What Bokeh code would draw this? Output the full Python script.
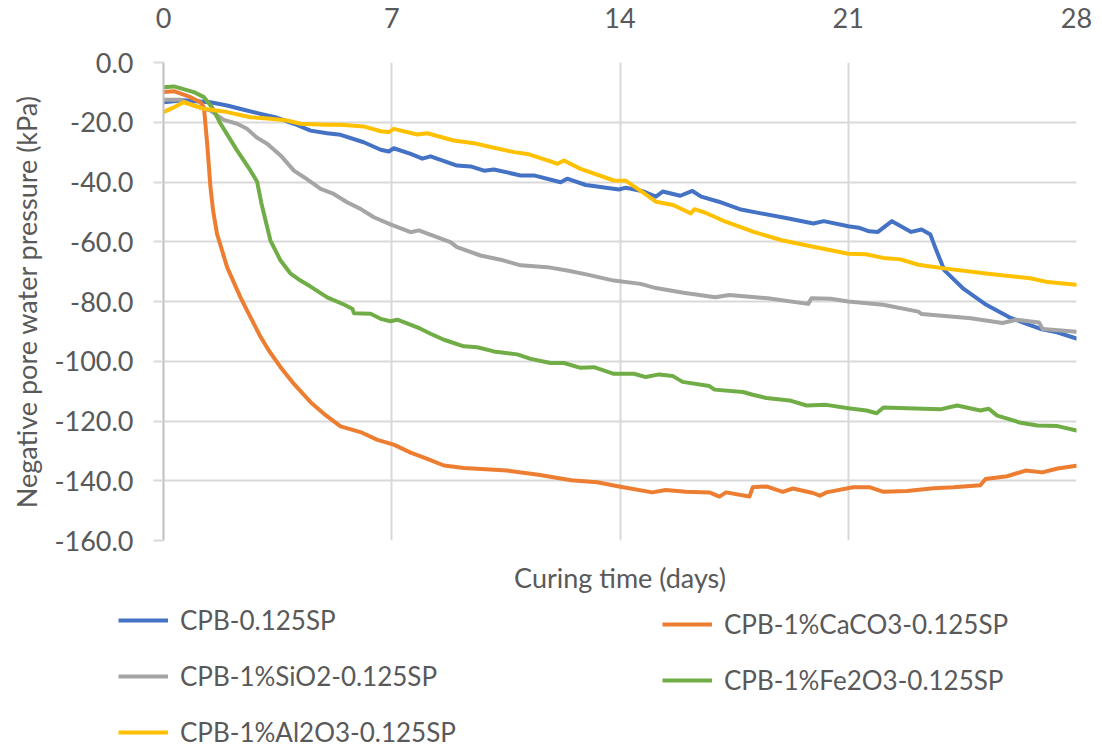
from bokeh.plotting import figure
from bokeh.layouts import column
from bokeh.models import (LinearAxis, Range1d, FixedTicker, Legend, LegendItem,
                          NumeralTickFormatter)
from bokeh.embed import file_html
from bokeh.resources import INLINE

# ---- data: negative pore water pressure (kPa) vs curing time (days) ----
day_ticks = [0, 7, 14, 21, 28]
kpa_ticks = [-160, -140, -120, -100, -80, -60, -40, -20, 0]

sp_days = [0, 0.62, 1.0, 1.44, 1.95, 2.46, 2.98, 3.49, 4.0, 4.51, 5.02, 5.43, 6.14, 6.66,
           6.91, 7.06, 7.58, 7.94, 8.19, 9.0, 9.42, 9.83, 10.13, 10.95, 11.36, 11.97, 12.18,
           12.38, 12.95, 13.97, 14.18, 14.67, 15.1, 15.31, 15.85, 16.22, 16.49, 17.03, 17.67,
           18.32, 19.17, 19.93, 20.25, 21.0, 21.32, 21.64, 21.91, 22.34, 22.93, 23.25, 23.52,
           23.68, 23.95, 24.54, 25.19, 25.94, 26.47, 26.9, 27.33, 28.0]
sp_kpa = [-13.3, -12.6, -13.0, -13.3, -14.4, -15.8, -17.2, -18.5, -20.5, -22.8, -23.7, -24.2,
          -26.7, -29.2, -29.8, -28.7, -30.6, -32.2, -31.4, -34.5, -34.8, -36.2, -35.8, -37.8,
          -37.8, -39.5, -40.1, -38.9, -41.0, -42.5, -41.9, -43.0, -44.9, -43.2, -44.6, -43.0,
          -44.9, -46.6, -49.1, -50.5, -52.2, -53.9, -53.1, -54.8, -55.3, -56.5, -56.7, -53.1,
          -56.7, -55.9, -57.6, -62.3, -69.6, -75.8, -80.8, -85.3, -87.5, -89.2, -90.1, -92.4]

caco3_days = [0, 0.32, 0.83, 1.13, 1.24, 1.34, 1.44, 1.52, 1.64, 1.95, 2.36, 2.67, 2.98, 3.23,
              3.59, 4.0, 4.51, 4.92, 5.43, 6.04, 6.56, 7.06, 7.58, 8.09, 8.6, 9.21, 10.54,
              11.5, 12.5, 13.3, 13.97, 14.99, 15.4, 16.02, 16.74, 17.05, 17.25, 17.97, 18.07,
              18.49, 18.99, 19.3, 19.92, 20.13, 20.33, 21.15, 21.67, 22.08, 22.8, 23.62, 24.23,
              25.05, 25.21, 25.87, 26.44, 26.95, 27.42, 28.0]
caco3_kpa = [-9.9, -9.6, -11.6, -13.3, -15.0, -27.2, -41.7, -49.5, -57.3, -68.5, -78.6, -85.3,
             -91.9, -96.4, -102.0, -107.6, -113.7, -117.6, -121.8, -123.7, -126.3, -127.9,
             -130.6, -132.7, -134.9, -135.7, -136.6, -138.0, -139.8, -140.5, -141.9, -143.9,
             -143.1, -143.7, -143.9, -145.3, -143.9, -145.3, -142.2, -141.9, -143.7, -142.6,
             -144.1, -145.0, -143.9, -142.2, -142.2, -143.7, -143.4, -142.5, -142.2, -141.5,
             -139.4, -138.5, -136.6, -137.2, -135.9, -135.0]

sio2_days = [0, 0.52, 0.93, 1.44, 1.85, 2.26, 2.56, 2.87, 3.18, 3.59, 4.0, 4.31, 4.82, 5.22,
             5.63, 6.04, 6.45, 6.96, 7.58, 7.83, 8.8, 9.0, 9.72, 10.34, 10.95, 11.77, 12.38,
             13.0, 13.81, 14.63, 15.1, 15.95, 16.92, 17.35, 18.53, 19.77, 19.87, 20.46, 21.0,
             22.07, 23.15, 23.25, 24.76, 25.73, 26.16, 26.85, 26.96, 28.0]
sio2_kpa = [-12.5, -12.5, -14.4, -16.1, -19.2, -20.5, -22.2, -25.2, -27.2, -31.1, -36.2, -38.4,
            -42.3, -44.0, -46.8, -49.0, -51.8, -54.2, -56.8, -56.2, -60.1, -61.8, -64.6, -66.0,
            -67.9, -68.5, -69.6, -71.0, -73.0, -74.1, -75.5, -77.1, -78.6, -77.8, -78.9, -80.8,
            -78.9, -79.1, -80.0, -81.1, -83.4, -84.2, -85.6, -87.2, -86.1, -87.0, -89.2, -90.1]

fe2o3_days = [0, 0.32, 0.93, 1.24, 1.49, 1.75, 2.26, 2.67, 2.87, 3.0, 3.13, 3.28, 3.59, 3.9,
              4.2, 4.51, 5.02, 5.53, 5.79, 5.84, 6.35, 6.66, 6.96, 7.17, 7.47, 7.88, 8.19, 8.6,
              9.21, 9.62, 10.13, 10.85, 11.26, 11.87, 12.28, 12.79, 13.2, 13.81, 14.43, 14.79,
              15.2, 15.61, 15.92, 16.74, 16.9, 17.77, 18.07, 18.49, 19.2, 19.72, 20.33, 21.0,
              21.56, 21.87, 22.08, 22.8, 23.82, 24.34, 25.05, 25.31, 25.57, 26.29, 26.8, 27.42,
              28.0]
fe2o3_kpa = [-8.3, -8.0, -9.9, -11.6, -15.0, -20.5, -29.5, -36.2, -39.9, -47.0, -52.9, -59.6,
             -66.3, -70.7, -73.0, -75.0, -78.6, -81.0, -82.4, -83.9, -84.1, -85.8, -86.6, -86.1,
             -87.3, -89.1, -90.8, -92.8, -95.0, -95.3, -96.7, -97.7, -99.2, -100.6, -100.6,
             -102.2, -102.0, -104.2, -104.2, -105.3, -104.4, -104.9, -106.9, -108.3, -109.5,
             -110.3, -111.2, -112.3, -113.1, -114.8, -114.6, -115.7, -116.5, -117.4, -115.5,
             -115.7, -116.1, -114.8, -116.5, -115.9, -118.2, -120.6, -121.5, -121.7, -123.2]

al2o3_days = [0, 0.32, 0.62, 0.93, 1.24, 1.95, 2.67, 3.28, 3.79, 4.2, 5.02, 5.43, 6.14, 6.66,
              6.91, 7.06, 7.78, 8.09, 8.9, 9.52, 10.03, 10.75, 11.16, 11.87, 12.08, 12.28,
              12.79, 13.81, 14.18, 14.67, 15.1, 15.63, 16.17, 16.28, 16.6, 17.24, 18.1, 18.96,
              19.93, 21.0, 21.54, 22.07, 22.6, 23.15, 24.0, 25.29, 26.58, 27.12, 28.0]
al2o3_kpa = [-16.6, -15.0, -13.3, -14.4, -15.5, -16.6, -18.3, -18.8, -19.4, -20.5, -20.8, -20.8,
             -21.4, -23.0, -23.3, -22.2, -24.1, -23.7, -26.1, -27.0, -28.3, -30.0, -30.6, -33.1,
             -33.9, -32.8, -35.6, -39.5, -39.6, -43.2, -46.6, -47.7, -50.5, -49.1, -50.2, -53.3,
             -56.7, -59.5, -61.7, -64.0, -64.2, -65.4, -65.9, -67.7, -69.0, -70.7, -72.2, -73.5,
             -74.4]

series_names = ["CPB-0.125SP", "CPB-1%CaCO3-0.125SP", "CPB-1%SiO2-0.125SP",
                "CPB-1%Fe2O3-0.125SP", "CPB-1%Al2O3-0.125SP"]
series_colors = ["#4472C4", "#ED7D31", "#A5A5A5", "#70AD47", "#FFC000"]

FONT = "Lato"
TXT = "#595959"
GRID = "#D9D9D9"
LW = 4

all_days = [sp_days, caco3_days, sio2_days, fe2o3_days, al2o3_days]
all_kpa = [sp_kpa, caco3_kpa, sio2_kpa, fe2o3_kpa, al2o3_kpa]

# ---------------- main chart ----------------
p = figure(width=1102, height=600, output_backend="svg", toolbar_location=None,
           x_range=Range1d(0, 28), y_range=Range1d(-160, 0), x_axis_location="above",
           min_border_left=163, min_border_right=26, min_border_top=62,
           min_border_bottom=60)
p.outline_line_color = None
p.background_fill_color = "white"

# top axis: days
xa = p.xaxis[0]
xa.ticker = FixedTicker(ticks=day_ticks)
xa.axis_line_color = None
xa.major_tick_line_color = None
xa.minor_tick_line_color = None
xa.major_label_text_font = FONT
xa.major_label_text_font_size = "27px"
xa.major_label_text_color = TXT
xa.major_label_standoff = 29

# left axis: pressure
ya = p.yaxis[0]
ya.ticker = FixedTicker(ticks=kpa_ticks)
ya.formatter = NumeralTickFormatter(format="0.0")
ya.axis_line_color = "#BFBFBF"
ya.axis_line_width = 2
ya.major_tick_line_color = GRID
ya.major_tick_line_width = 2
ya.major_tick_out = 10
ya.major_tick_in = 0
ya.minor_tick_line_color = None
ya.major_label_text_font = FONT
ya.major_label_text_font_size = "27px"
ya.major_label_text_color = TXT
ya.major_label_standoff = 20
ya.axis_label = "Negative pore water pressure (kPa)"
ya.axis_label_text_font = FONT
ya.axis_label_text_font_size = "27px"
ya.axis_label_text_font_style = "normal"
ya.axis_label_text_color = TXT
ya.axis_label_standoff = 8

# bottom axis carrying only the time title
xb = LinearAxis(ticker=FixedTicker(ticks=[]), axis_line_color=None,
                major_tick_line_color=None, minor_tick_line_color=None,
                axis_label="Curing time (days)", axis_label_text_font=FONT,
                axis_label_text_font_size="27px", axis_label_text_font_style="normal",
                axis_label_text_color=TXT, axis_label_standoff=20)
p.add_layout(xb, "below")

p.xgrid.ticker = FixedTicker(ticks=day_ticks)
p.ygrid.ticker = FixedTicker(ticks=kpa_ticks)
for g in (p.xgrid[0], p.ygrid[0]):
    g.grid_line_color = GRID
    g.grid_line_width = 2

for d, k, c in zip(all_days, all_kpa, series_colors):
    p.line(d, k, line_color=c, line_width=LW, line_join="round", line_cap="round")

# ---------------- legend strip ----------------
# Same series, plotted into a strip whose ranges keep the lines out of view,
# so only the legend entries show.
leg = figure(width=1102, height=148, output_backend="svg", toolbar_location=None,
             x_range=Range1d(100, 101), y_range=Range1d(100, 101),
             x_axis_location=None, y_axis_location=None, frame_align=False,
             min_border_left=0, min_border_right=0, min_border_top=0, min_border_bottom=0)
leg.outline_line_color = None
leg.grid.visible = False

leg_renderers = []
for d, k, c in zip(all_days, all_kpa, series_colors):
    leg_renderers.append(leg.line(d, k, line_color=c, line_width=LW))


def make_legend(idx, loc):
    items = [LegendItem(label=series_names[i], renderers=[leg_renderers[i]]) for i in idx]
    return Legend(items=items, location=loc, orientation="vertical",
                  padding=0, margin=0, border_line_color=None, background_fill_alpha=0,
                  glyph_width=50, glyph_height=28, label_height=28, spacing=24,
                  label_standoff=12, label_text_font=FONT, label_text_font_size="26px",
                  label_text_color=TXT)


leg.add_layout(make_legend([0, 2, 4], (118, 0)))
leg.add_layout(make_legend([1, 3], (662, 52)))

page = column(p, leg, spacing=0)
open("out.html", "w").write(file_html(page, INLINE))
